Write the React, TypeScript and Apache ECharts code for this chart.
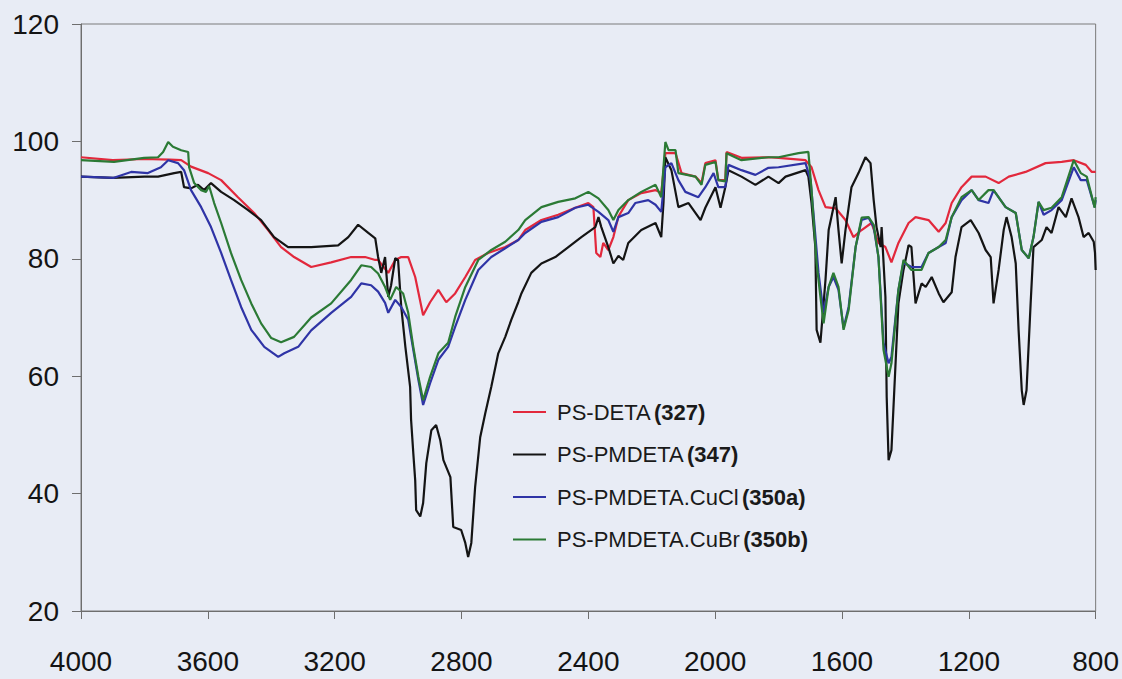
import React, { useEffect, useRef } from "react";
import * as echarts from "echarts";

// Wavenumber (cm-1) / transmittance (%) pairs
const psDeta: [number, number][] = [
  [4000, 97.3], [3900, 96.8], [3800, 97.0], [3720, 96.9], [3684, 96.8], [3653, 95.7], [3599, 94.6], [3558, 93.4],
  [3505, 90.5], [3454, 87.8], [3410, 84.9], [3369, 82.0], [3328, 80.3], [3274, 78.6], [3211, 79.4], [3148, 80.3],
  [3104, 80.3], [3072, 79.8], [3063, 79.8], [3031, 77.6], [3009, 79.8], [2990, 80.3], [2968, 80.3], [2946, 76.9],
  [2921, 70.4], [2899, 72.6], [2873, 74.7], [2848, 72.6], [2820, 74.1], [2788, 76.9], [2757, 79.8], [2716, 81.0],
  [2662, 82.0], [2621, 83.2], [2599, 84.9], [2548, 86.6], [2495, 87.5], [2441, 88.7], [2400, 89.5], [2384, 88.8],
  [2375, 81.0], [2362, 80.3], [2353, 82.7], [2337, 81.5], [2321, 83.7], [2305, 87.2], [2274, 90.0], [2233, 91.2],
  [2188, 91.7], [2170, 91.2], [2157, 98.0], [2125, 98.0], [2106, 94.6], [2062, 94.0], [2043, 92.9], [2031, 96.3],
  [1999, 96.8], [1990, 93.4], [1968, 93.4], [1964, 98.2], [1917, 97.2], [1832, 97.3], [1800, 97.2], [1715, 96.8],
  [1696, 95.6], [1674, 91.7], [1652, 88.8], [1620, 88.6], [1589, 86.6], [1564, 83.7], [1538, 84.9], [1507, 86.1],
  [1485, 82.7], [1463, 82.0], [1444, 79.4], [1422, 82.7], [1390, 86.1], [1368, 87.1], [1327, 86.6], [1295, 84.6],
  [1273, 86.1], [1254, 89.5], [1223, 92.2], [1191, 94.0], [1147, 94.0], [1106, 92.9], [1074, 94.0], [1021, 94.8],
  [958, 96.3], [907, 96.5], [869, 96.8], [831, 96.0], [812, 94.8], [800, 94.8],
];

const psPmdeta: [number, number][] = [
  [4000, 94.0], [3900, 93.8], [3800, 94.0], [3757, 94.0], [3706, 94.6], [3684, 94.8], [3675, 92.2], [3653, 92.0],
  [3631, 92.6], [3612, 91.7], [3590, 92.9], [3558, 91.4], [3517, 90.0], [3473, 88.3], [3432, 86.6], [3391, 83.7],
  [3347, 82.0], [3274, 82.0], [3189, 82.3], [3157, 83.7], [3126, 85.8], [3094, 84.4], [3072, 83.5], [3063, 80.3],
  [3053, 77.6], [3041, 80.3], [3031, 73.5], [3022, 75.5], [3009, 80.1], [3000, 79.8], [2990, 71.8], [2977, 65.0],
  [2962, 58.2], [2959, 52.6], [2952, 46.9], [2946, 42.3], [2943, 37.2], [2930, 36.1], [2921, 38.4], [2911, 45.2],
  [2895, 50.8], [2880, 51.7], [2867, 49.1], [2857, 45.7], [2835, 42.8], [2826, 34.3], [2801, 33.8], [2788, 31.6],
  [2779, 29.2], [2769, 31.6], [2757, 41.1], [2741, 49.6], [2725, 53.7], [2706, 58.2], [2684, 63.9], [2662, 66.7],
  [2643, 69.6], [2621, 72.6], [2611, 74.1], [2580, 77.6], [2548, 79.2], [2504, 80.3], [2463, 82.0], [2422, 83.7],
  [2378, 85.4], [2368, 87.1], [2359, 85.4], [2337, 82.0], [2321, 79.2], [2305, 80.5], [2290, 79.8], [2274, 82.7],
  [2233, 84.9], [2188, 86.1], [2170, 83.7], [2163, 89.5], [2157, 97.3], [2138, 95.1], [2116, 88.8], [2084, 89.5],
  [2046, 86.6], [2031, 88.7], [1999, 92.2], [1983, 88.7], [1968, 92.2], [1958, 95.1], [1917, 94.0], [1873, 92.6],
  [1832, 94.0], [1800, 92.9], [1778, 94.0], [1715, 95.1], [1706, 94.0], [1696, 89.5], [1684, 82.0], [1680, 67.9],
  [1668, 65.7], [1652, 76.4], [1642, 84.9], [1620, 90.5], [1611, 84.9], [1601, 79.2], [1589, 84.9], [1570, 92.2],
  [1548, 94.6], [1526, 97.3], [1510, 96.3], [1500, 90.0], [1491, 85.4], [1478, 82.0], [1475, 85.4], [1463, 73.5],
  [1459, 56.5], [1453, 45.7], [1444, 47.4], [1431, 62.2], [1422, 72.4], [1406, 78.1], [1390, 82.3], [1381, 82.0],
  [1368, 72.4], [1349, 75.8], [1336, 75.2], [1317, 76.9], [1295, 74.1], [1280, 72.6], [1254, 74.3], [1242, 80.3],
  [1223, 85.4], [1194, 86.6], [1169, 84.4], [1147, 81.5], [1131, 80.3], [1122, 72.4], [1106, 78.1], [1090, 84.9],
  [1081, 87.1], [1065, 83.7], [1052, 79.2], [1043, 67.9], [1033, 57.6], [1027, 55.1], [1018, 57.6], [1005, 72.4],
  [996, 82.0], [970, 83.2], [955, 85.4], [939, 84.4], [917, 88.8], [894, 87.1], [876, 90.3], [854, 87.1],
  [838, 83.7], [822, 84.4], [806, 82.9], [802, 81.0], [800, 78.1],
];

const psPmdetaCuCl: [number, number][] = [
  [4000, 94.0], [3896, 93.8], [3842, 94.8], [3789, 94.6], [3748, 95.6], [3725, 96.8], [3694, 96.3], [3675, 95.1],
  [3653, 91.7], [3621, 88.8], [3590, 85.4], [3558, 81.0], [3527, 76.4], [3495, 71.8], [3463, 67.9], [3422, 65.0],
  [3378, 63.3], [3359, 63.9], [3315, 65.0], [3274, 67.8], [3211, 70.8], [3148, 73.5], [3116, 75.8], [3085, 75.5],
  [3063, 74.4], [3041, 72.5], [3031, 70.8], [3009, 73.0], [2990, 71.8], [2968, 69.6], [2952, 64.5], [2936, 59.4],
  [2921, 55.1], [2899, 58.8], [2873, 62.8], [2842, 65.0], [2820, 68.4], [2788, 73.0], [2747, 78.1], [2706, 80.3],
  [2662, 81.8], [2621, 83.2], [2599, 84.4], [2548, 86.3], [2495, 87.1], [2441, 88.7], [2400, 89.2], [2368, 88.0],
  [2337, 86.6], [2321, 84.6], [2305, 87.1], [2274, 87.8], [2252, 89.5], [2211, 90.0], [2188, 89.2], [2170, 88.0],
  [2157, 95.6], [2138, 96.3], [2116, 93.4], [2094, 91.4], [2053, 90.5], [2031, 92.2], [2005, 94.6], [1990, 92.2],
  [1968, 92.2], [1958, 96.0], [1917, 95.1], [1873, 94.3], [1832, 95.5], [1800, 95.6], [1715, 96.3], [1699, 93.4],
  [1690, 87.8], [1674, 77.6], [1658, 70.8], [1642, 75.2], [1627, 76.9], [1611, 74.7], [1595, 68.2], [1579, 71.8],
  [1557, 82.0], [1538, 86.6], [1516, 87.0], [1500, 85.4], [1485, 80.3], [1469, 65.7], [1453, 62.2], [1444, 63.3],
  [1431, 70.1], [1422, 74.7], [1406, 79.4], [1381, 78.6], [1349, 78.6], [1327, 81.0], [1295, 82.0], [1273, 82.7],
  [1254, 87.1], [1223, 90.0], [1191, 91.7], [1169, 90.0], [1138, 89.5], [1122, 91.7], [1084, 88.8], [1052, 87.8],
  [1033, 81.5], [1011, 80.1], [996, 83.7], [980, 89.7], [964, 87.5], [939, 88.3], [907, 90.0], [869, 95.6],
  [847, 93.4], [828, 93.4], [803, 88.8], [800, 90.0],
];

const psPmdetaCuBr: [number, number][] = [
  [4000, 96.8], [3896, 96.5], [3801, 97.2], [3757, 97.3], [3741, 98.2], [3725, 99.9], [3710, 99.1], [3684, 98.5],
  [3662, 98.2], [3659, 95.6], [3643, 92.9], [3621, 91.7], [3606, 91.4], [3596, 92.4], [3580, 89.5], [3558, 86.1],
  [3527, 81.0], [3495, 76.4], [3463, 72.4], [3432, 69.0], [3400, 66.5], [3369, 65.8], [3328, 66.7], [3274, 70.0],
  [3211, 72.4], [3148, 76.4], [3116, 78.9], [3085, 78.6], [3063, 77.5], [3041, 75.2], [3025, 73.0], [3006, 75.2],
  [2984, 74.1], [2968, 70.8], [2952, 65.0], [2936, 59.9], [2921, 55.9], [2899, 59.9], [2873, 63.9], [2842, 65.7],
  [2820, 70.1], [2788, 75.2], [2747, 79.8], [2706, 81.5], [2662, 82.9], [2621, 84.9], [2599, 86.6], [2548, 88.8],
  [2495, 89.7], [2441, 90.3], [2400, 91.4], [2368, 90.3], [2337, 88.3], [2321, 86.6], [2305, 88.3], [2274, 90.0],
  [2233, 91.4], [2188, 92.6], [2170, 90.5], [2157, 99.9], [2147, 98.5], [2125, 98.5], [2116, 94.6], [2062, 94.0],
  [2043, 92.6], [2031, 96.0], [1999, 96.5], [1990, 93.4], [1968, 93.2], [1964, 98.0], [1917, 96.8], [1832, 97.3],
  [1800, 97.3], [1737, 98.0], [1706, 98.2], [1696, 91.7], [1680, 79.2], [1668, 73.5], [1658, 69.0], [1642, 75.2],
  [1627, 77.6], [1611, 75.2], [1595, 67.9], [1579, 71.3], [1557, 82.0], [1538, 87.0], [1516, 87.1], [1500, 85.8],
  [1485, 80.3], [1469, 64.5], [1453, 59.9], [1444, 62.2], [1431, 69.6], [1422, 74.7], [1406, 79.8], [1381, 78.1],
  [1349, 78.1], [1327, 81.0], [1295, 82.0], [1273, 83.2], [1254, 87.1], [1223, 90.5], [1191, 91.7], [1169, 90.0],
  [1138, 91.7], [1122, 91.7], [1084, 88.8], [1052, 87.8], [1033, 81.5], [1011, 80.1], [996, 83.7], [980, 89.7],
  [964, 88.3], [939, 88.7], [907, 90.5], [869, 96.8], [847, 94.6], [828, 94.0], [803, 88.7], [800, 90.5],
];

const seriesNames = [
  "PS-DETA (327)",
  "PS-PMDETA (347)",
  "PS-PMDETA.CuCl (350a)",
  "PS-PMDETA.CuBr (350b)",
];
const seriesData = [psDeta, psPmdeta, psPmdetaCuCl, psPmdetaCuBr];
const seriesColors = ["#e2283c", "#141414", "#2f34a6", "#2b7a35"];

const xMin = 800;
const xMax = 4000;
const xStep = 400;
const yMin = 20;
const yMax = 120;
const yStep = 20;

const BG = "#e8ecf5";
const FONT = "'Liberation Sans', Arial, Helvetica, sans-serif";

export default function App() {
  const ref = useRef<HTMLDivElement | null>(null);

  useEffect(() => {
    if (!ref.current) return;
    const chart = echarts.init(ref.current, null, { renderer: "svg" });
    chart.setOption({
      animation: false,
      backgroundColor: BG,
      textStyle: { fontFamily: FONT },
      grid: {
        left: 81,
        right: 25,
        top: 24,
        bottom: 68,
        show: true,
        borderColor: "#7a7a7a",
        borderWidth: 1,
        backgroundColor: "transparent",
      },
      legend: {
        orient: "vertical",
        left: 513,
        top: 401,
        padding: 0,
        icon: "rect",
        itemWidth: 33,
        itemHeight: 2,
        itemGap: 20.5,
        data: seriesNames,
        formatter: (name: string) => {
          const i = name.indexOf(" (");
          return `{n|${name.slice(0, i)}} {b|${name.slice(i + 1)}}`;
        },
        textStyle: {
          fontFamily: FONT,
          padding: [0, 0, 0, 6],
          rich: {
            n: { fontSize: 22, color: "#1a1a1a", fontFamily: FONT, lineHeight: 22 },
            b: { fontSize: 22, color: "#1a1a1a", fontWeight: "bold", fontFamily: FONT, lineHeight: 22 },
          },
        },
      },
      xAxis: {
        type: "value",
        inverse: true,
        min: xMin,
        max: xMax,
        interval: xStep,
        axisLine: { show: true, lineStyle: { color: "#6e6e6e", width: 1 } },
        axisTick: { show: true, inside: false, length: 8, lineStyle: { color: "#6e6e6e" } },
        axisLabel: {
          fontSize: 28,
          color: "#141414",
          margin: 36,
          fontFamily: FONT,
          formatter: (v: number) => String(v),
        },
        splitLine: { show: false },
      },
      yAxis: {
        type: "value",
        min: yMin,
        max: yMax,
        interval: yStep,
        axisLine: { show: true, lineStyle: { color: "#6e6e6e", width: 1 } },
        axisTick: { show: true, inside: false, length: 9, lineStyle: { color: "#6e6e6e" } },
        axisLabel: {
          fontSize: 28,
          color: "#141414",
          margin: 22,
          fontFamily: FONT,
          formatter: (v: number) => String(v),
        },
        splitLine: { show: false },
      },
      series: seriesNames.map((name, i) => ({
        name,
        type: "line",
        data: seriesData[i],
        symbol: "none",
        showSymbol: false,
        color: seriesColors[i],
        itemStyle: { color: seriesColors[i] },
        lineStyle: { color: seriesColors[i], width: 2.2 },
        z: 2 + i,
      })),
    });
    return () => chart.dispose();
  }, []);

  return (
    <div
      style={{
        position: "fixed",
        left: 0,
        top: 0,
        width: 1122,
        height: 679,
        background: BG,
      }}
    >
      <div ref={ref} style={{ width: 1122, height: 679 }} />
    </div>
  );
}
